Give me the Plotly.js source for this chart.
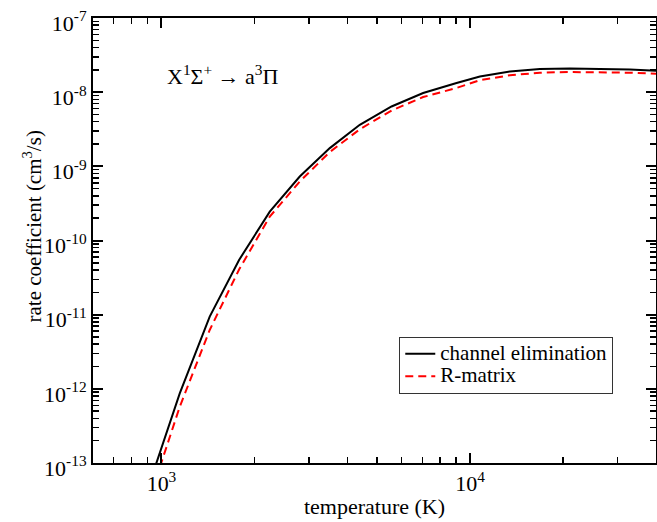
<!DOCTYPE html>
<html>
<head>
<meta charset="utf-8">
<script src="https://cdn.plot.ly/plotly-3.0.1.min.js"></script>
<style>html,body{margin:0;padding:0;background:#fff;}#chart{width:657px;height:522px;}</style>
</head>
<body>
<div id="chart"></div>
<script>
// Temperatures (K)
const temperature = [930, 1146, 1433, 1784, 2243, 2805, 3510, 4390, 5563, 7041, 9036, 10752, 13450, 16826, 21050, 26340, 32940, 40000];
// channel elimination rate coefficient (cm^3/s)
const channelElimination = [6.5e-14, 8.7e-13, 9.4e-12, 5.47e-11, 2.45e-10, 7.28e-10, 1.76e-9, 3.63e-9, 6.41e-9, 9.73e-9, 1.33e-8, 1.63e-8, 1.90e-8, 2.05e-8, 2.08e-8, 2.07e-8, 2.02e-8, 1.95e-8];
// R-matrix rate coefficient (cm^3/s)
const rMatrix = [4.1e-14, 5.73e-13, 6.22e-12, 4.07e-11, 2.10e-10, 6.24e-10, 1.56e-9, 3.16e-9, 5.66e-9, 8.59e-9, 1.14e-8, 1.45e-8, 1.69e-8, 1.83e-8, 1.87e-8, 1.87e-8, 1.83e-8, 1.77e-8];

const seriesNames = ['channel elimination', 'R-matrix'];
const xTickVals = [1000, 10000];
const xTickText = ['10<sup>3</sup>', '10<sup>4</sup>'];
const yTickVals = [1e-13, 1e-12, 1e-11, 1e-10, 1e-9, 1e-8, 1e-7];
const yTickText = ['10<sup>-13</sup>', '10<sup>-12</sup>', '10<sup>-11</sup>', '10<sup>-10</sup>', '10<sup>-9</sup>', '10<sup>-8</sup>', '10<sup>-7</sup>'];

const FONT = '"Liberation Serif", "Times New Roman", serif';
const big = s => '<span style="font-size:21px">' + s + '</span>';

const traces = [
  {x: temperature, y: channelElimination, mode: 'lines', name: big(seriesNames[0]),
   line: {color: '#000000', width: 2}},
  {x: temperature, y: rMatrix, mode: 'lines', name: big(seriesNames[1]),
   line: {color: '#ff0000', width: 2, dash: '8px,5px'}}
];

const axisCommon = {
  type: 'log', showgrid: false, zeroline: false,
  showline: true, linecolor: '#000', linewidth: 2, mirror: 'allticks',
  ticks: 'inside', ticklen: 10, tickwidth: 2, tickcolor: '#000',
  tickmode: 'array', ticklabeloverflow: 'allow',
  tickfont: {family: FONT, size: 22, color: '#000'},
  minor: {ticks: 'inside', ticklen: 6, tickwidth: 1.5, tickcolor: '#000', dtick: 'D1', showgrid: false}
};

const layout = {
  width: 657, height: 522,
  margin: {l: 93, r: 1, t: 18, b: 59},
  paper_bgcolor: '#fff', plot_bgcolor: '#fff',
  font: {family: FONT, color: '#000'},
  showlegend: true,
  xaxis: Object.assign({}, axisCommon, {
    range: [Math.log10(600), Math.log10(40000)],
    tickvals: xTickVals, ticktext: xTickText,
    title: {text: 'temperature (K)', font: {family: FONT, size: 22, color: '#000'}, standoff: 3}
  }),
  yaxis: Object.assign({}, axisCommon, {
    range: [-13, -7],
    tickvals: yTickVals, ticktext: yTickText,
    ticklabelshift: 5
  }),
  legend: {
    x: 0.544, y: 0.284, xanchor: 'left', yanchor: 'top',
    bgcolor: '#fff', bordercolor: '#333', borderwidth: 1,
    font: {family: FONT, size: 15, color: '#000'},
    tracegroupgap: 0
  },
  annotations: [{
    xref: 'paper', yref: 'paper', x: 0.127, y: 0.872, xanchor: 'left', yanchor: 'middle',
    text: 'X<sup>1</sup>Σ<sup>+</sup> → a<sup>3</sup>Π', showarrow: false,
    font: {family: FONT, size: 22, color: '#000'}
  }, {
    xref: 'paper', yref: 'paper', x: -0.1072, y: 0.5307, xanchor: 'center', yanchor: 'middle',
    textangle: -90, showarrow: false,
    text: 'rate coefficient (cm<sup>3</sup>/s)',
    font: {family: FONT, size: 21, color: '#000'}
  }]
};

Plotly.newPlot('chart', traces, layout, {displayModeBar: false, staticPlot: true});
</script>
</body>
</html>
